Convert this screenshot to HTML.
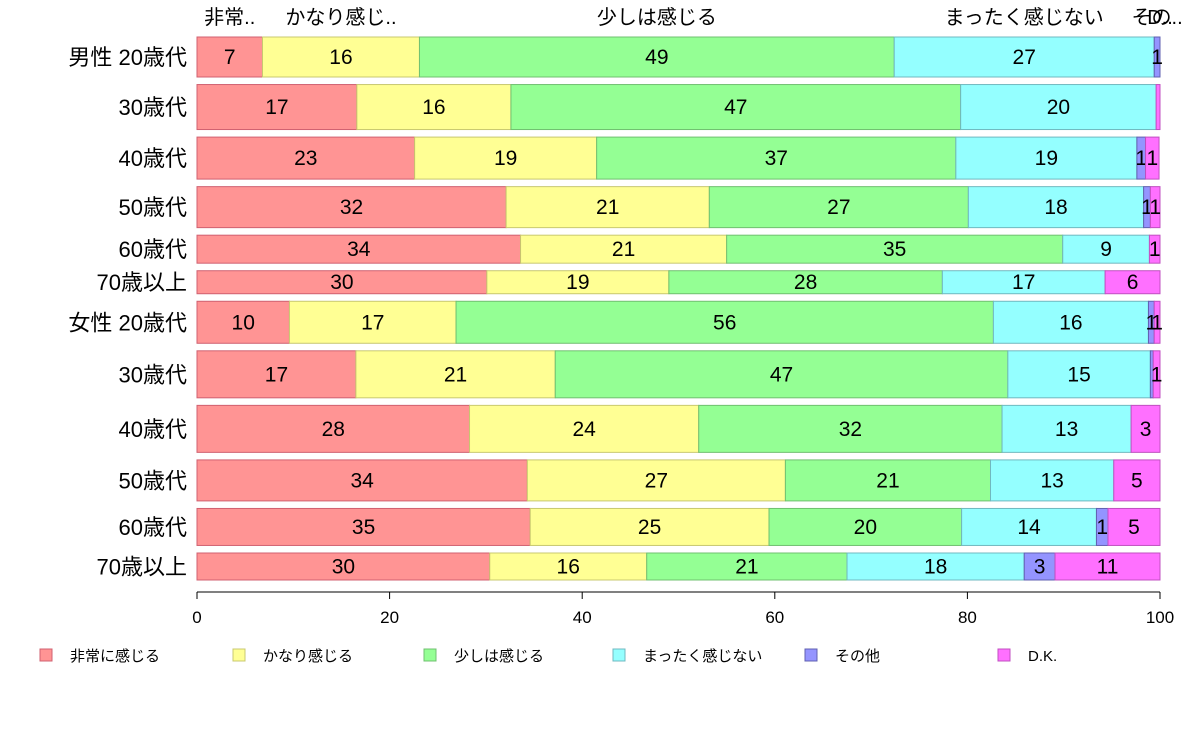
<!DOCTYPE html>
<html><head><meta charset="utf-8"><style>
body{margin:0;background:#fff;}
svg{font-family:"Liberation Sans","Noto Sans CJK JP",sans-serif;}
</style></head><body>
<svg id="c" width="1188" height="736"></svg>
<script>
const rowLabels=["男性 20歳代","30歳代","40歳代","50歳代","60歳代","70歳以上","女性 20歳代","30歳代","40歳代","50歳代","60歳代","70歳以上"];
const rowWeights=[40,45,42,41,28,23,42,47,47,41,37,27];
const categories=["非常に感じる","かなり感じる","少しは感じる","まったく感じない","その他","D.K."];
const topLabels=["非常..","かなり感じ..","少しは感じる","まったく感じない","その..","D.."];
const s1=[6.8,16.6,22.6,32.1,33.6,30.1,9.6,16.5,28.3,34.3,34.6,30.4];
const s2=[16.3,16.0,18.9,21.1,21.4,18.9,17.3,20.7,23.8,26.8,24.8,16.3];
const s3=[49.3,46.7,37.3,26.9,34.9,28.4,55.8,47.0,31.5,21.3,20.0,20.8];
const s4=[27.0,20.3,18.8,18.2,9.0,16.9,16.1,14.8,13.4,12.8,14.0,18.4];
const s5=[0.6,0,0.9,0.7,0,0,0.6,0.3,0,0,1.2,3.2];
const s6=[0,0.4,1.4,1.0,1.1,5.7,0.6,0.7,3.0,4.8,5.4,10.9];
const xTicks=[0,20,40,60,80,100];
const series=[s1,s2,s3,s4,s5,s6];
const fills=["#ff9494","#ffff94","#94ff94","#94ffff","#9494ff","#ff70ff"];
const strokes=["#d06070","#c8c870","#70c070","#70b8c0","#6060b0","#c050c0"];
const svg=document.getElementById('c');const NS="http://www.w3.org/2000/svg";
function mk(t,a,p){const e=document.createElementNS(NS,t);for(const k in a)e.setAttribute(k,a[k]);(p||svg).appendChild(e);return e;}
const X0=197,X1=1160,Y0=37,Y1=580;
const x=v=>X0+(X1-X0)*v/100;
const gap=(Y1-Y0-rowWeights.reduce((a,b)=>a+b,0))/(rowWeights.length-1);
const ys=[];let cy=Y0;rowWeights.forEach(w=>{ys.push([cy,cy+w]);cy+=w+gap;});
rowLabels.forEach((lab,i)=>{
  const [t,b]=ys[i];
  const g=mk('g',{});
  
  
  let acc=0;
  series.forEach((s,j)=>{
    const v=s[i];const xa=x(acc),xb=x(acc+v);acc+=v;
    if(v<=0)return;
    const r=mk('rect',{x:xa,y:t,width:xb-xa,height:b-t,fill:fills[j],stroke:strokes[j],'stroke-width':1},g);
    
    
    const rv=Math.round(v)||(v>=0.5?1:0);
    if(rv>0){
      const tx=mk('text',{x:(xa+xb)/2,y:(t+b)/2+7,'text-anchor':'middle','font-size':21,fill:'#000'},g);
      
      
      tx.textContent=rv;
    }
  });
  const lt=mk('text',{x:187,y:(t+b)/2+8,'text-anchor':'end','font-size':22,fill:'#000'});
  
  
  lt.textContent=lab;
});
// top column labels from first row
let acc0=0;
topLabels.forEach((lab,j)=>{
  const v=series[j][0];const cx=x(acc0+v/2);acc0+=v;
  const tt=mk('text',{x:cx,y:24,'text-anchor':'middle','font-size':20,fill:'#000'});
  
  
  tt.textContent=lab;
});
// axis
const ax=mk('line',{x1:X0,x2:X1,y1:592,y2:592,stroke:'#000'});


xTicks.forEach(v=>{
  const tk=mk('line',{x1:x(v),x2:x(v),y1:592,y2:599,stroke:'#000'});
  
  
  const tl=mk('text',{x:x(v),y:623,'text-anchor':'middle','font-size':17,fill:'#000'});
  
  
  tl.textContent=v;
});
// legend
const lx=[40,233,424,613,805,998];
categories.forEach((c,j)=>{
  const sq=mk('rect',{x:lx[j],y:649,width:12,height:12,fill:fills[j],stroke:strokes[j]});
  
  
  const lt=mk('text',{x:lx[j]+30,y:661,'font-size':15,fill:'#000'});
  
  
  lt.textContent=c;
});
</script>
</body></html>
